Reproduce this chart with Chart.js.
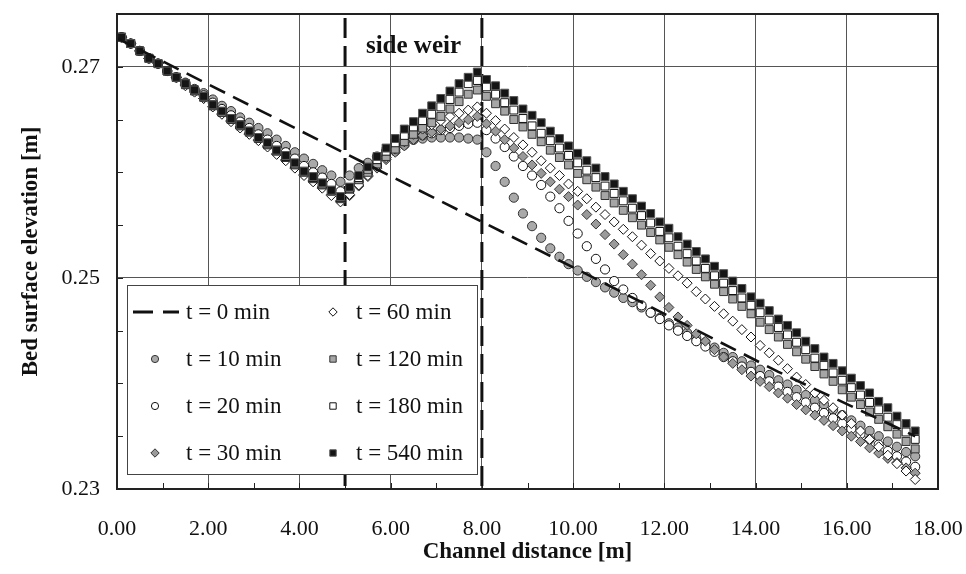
<!DOCTYPE html>
<html>
<head>
<meta charset="utf-8">
<script src="https://cdn.jsdelivr.net/npm/chart.js@4/dist/chart.umd.min.js"></script>
<style>
  html, body { margin: 0; padding: 0; background: #fff; }
</style>
</head>
<body>
<canvas id="perfil" width="966" height="574"></canvas>
<script>
// ================== DATOS ==================
// posiciones de medida a lo largo del canal [m]
const distance = [
  0.1, 0.3, 0.5, 0.7, 0.9, 1.1, 1.3, 1.5, 1.7, 1.9,
  2.1, 2.3, 2.5, 2.7, 2.9, 3.1, 3.3, 3.5, 3.7, 3.9,
  4.1, 4.3, 4.5, 4.7, 4.9, 5.1, 5.3, 5.5, 5.7, 5.9,
  6.1, 6.3, 6.5, 6.7, 6.9, 7.1, 7.3, 7.5, 7.7, 7.9,
  8.1, 8.3, 8.5, 8.7, 8.9, 9.1, 9.3, 9.5, 9.7, 9.9,
  10.1, 10.3, 10.5, 10.7, 10.9, 11.1, 11.3, 11.5, 11.7, 11.9,
  12.1, 12.3, 12.5, 12.7, 12.9, 13.1, 13.3, 13.5, 13.7, 13.9,
  14.1, 14.3, 14.5, 14.7, 14.9, 15.1, 15.3, 15.5, 15.7, 15.9,
  16.1, 16.3, 16.5, 16.7, 16.9, 17.1, 17.3, 17.5
];

// lecho inicial (t = 0)
const t0Distance = [0, 5, 10, 14.5, 17.5];
const t0Bed = [0.2727, 0.2618, 0.2510, 0.2411, 0.2350];

const t10 = [
  0.2728, 0.2722, 0.2715, 0.2708, 0.2703, 0.2696, 0.2690, 0.2685, 0.2679, 0.2675,
  0.2669, 0.2663, 0.2658, 0.2652, 0.2647, 0.2642, 0.2637, 0.2631, 0.2625, 0.2619,
  0.2613, 0.2608, 0.2602, 0.2597, 0.2591, 0.2597, 0.2604, 0.2609, 0.2615, 0.2620,
  0.2625, 0.2628, 0.2631, 0.2632, 0.2633, 0.2633, 0.2633, 0.2633, 0.2632, 0.2631,
  0.2619, 0.2606, 0.2591, 0.2576, 0.2561, 0.2549, 0.2538, 0.2528, 0.2520, 0.2513,
  0.2507, 0.2501, 0.2496, 0.2491, 0.2486, 0.2481, 0.2477, 0.2472, 0.2467, 0.2462,
  0.2457, 0.2453, 0.2448, 0.2443, 0.2439, 0.2434, 0.2429, 0.2425, 0.2421, 0.2417,
  0.2413, 0.2408, 0.2403, 0.2399, 0.2394, 0.2389, 0.2384, 0.2380, 0.2375, 0.2370,
  0.2365, 0.2360, 0.2355, 0.2350, 0.2345, 0.2340, 0.2335, 0.2331
];
const t20 = [
  0.2728, 0.2722, 0.2715, 0.2708, 0.2703, 0.2696, 0.2690, 0.2684, 0.2678, 0.2673,
  0.2666, 0.2660, 0.2654, 0.2648, 0.2642, 0.2636, 0.2631, 0.2625, 0.2619, 0.2613,
  0.2606, 0.2600, 0.2595, 0.2589, 0.2582, 0.2583, 0.2591, 0.2599, 0.2607, 0.2614,
  0.2620, 0.2626, 0.2631, 0.2635, 0.2637, 0.2640, 0.2642, 0.2644, 0.2646, 0.2647,
  0.2640, 0.2632, 0.2624, 0.2615, 0.2606, 0.2597, 0.2588, 0.2577, 0.2566, 0.2554,
  0.2542, 0.2530, 0.2518, 0.2508, 0.2497, 0.2489, 0.2481, 0.2474, 0.2467, 0.2461,
  0.2455, 0.2450, 0.2445, 0.2440, 0.2435, 0.2430, 0.2425, 0.2421, 0.2416, 0.2411,
  0.2407, 0.2402, 0.2397, 0.2392, 0.2387, 0.2382, 0.2377, 0.2372, 0.2367, 0.2362,
  0.2357, 0.2352, 0.2347, 0.2342, 0.2336, 0.2331, 0.2326, 0.2321
];
const t30 = [
  0.2728, 0.2722, 0.2715, 0.2708, 0.2703, 0.2696, 0.2690, 0.2683, 0.2677, 0.2670,
  0.2662, 0.2656, 0.2649, 0.2643, 0.2637, 0.2631, 0.2625, 0.2618, 0.2612, 0.2605,
  0.2598, 0.2592, 0.2586, 0.2579, 0.2573, 0.2578, 0.2587, 0.2596, 0.2604, 0.2612,
  0.2619, 0.2625, 0.2631, 0.2635, 0.2638, 0.2641, 0.2644, 0.2647, 0.2650, 0.2653,
  0.2646, 0.2639, 0.2631, 0.2623, 0.2615, 0.2607, 0.2599, 0.2591, 0.2584, 0.2577,
  0.2569, 0.2560, 0.2551, 0.2541, 0.2532, 0.2522, 0.2513, 0.2503, 0.2493, 0.2482,
  0.2472, 0.2463, 0.2455, 0.2447, 0.2440, 0.2432, 0.2425, 0.2419, 0.2413, 0.2407,
  0.2402, 0.2397, 0.2391, 0.2386, 0.2380, 0.2375, 0.2370, 0.2365, 0.2360, 0.2355,
  0.2350, 0.2345, 0.2339, 0.2334, 0.2329, 0.2325, 0.2320, 0.2315
];
const t60 = [
  0.2728, 0.2722, 0.2715, 0.2708, 0.2703, 0.2696, 0.2690, 0.2682, 0.2676, 0.2670,
  0.2662, 0.2655, 0.2648, 0.2642, 0.2636, 0.2630, 0.2624, 0.2617, 0.2611, 0.2604,
  0.2597, 0.2591, 0.2585, 0.2578, 0.2572, 0.2579, 0.2588, 0.2597, 0.2606, 0.2614,
  0.2622, 0.2629, 0.2636, 0.2641, 0.2645, 0.2649, 0.2653, 0.2656, 0.2659, 0.2662,
  0.2656, 0.2649, 0.2641, 0.2633, 0.2626, 0.2619, 0.2611, 0.2604, 0.2597, 0.2589,
  0.2582, 0.2575, 0.2567, 0.2560, 0.2553, 0.2546, 0.2539, 0.2531, 0.2523, 0.2516,
  0.2509, 0.2502, 0.2495, 0.2487, 0.2480, 0.2473, 0.2466, 0.2459, 0.2451, 0.2444,
  0.2436, 0.2429, 0.2422, 0.2414, 0.2406, 0.2399, 0.2391, 0.2384, 0.2377, 0.2370,
  0.2362, 0.2355, 0.2347, 0.2340, 0.2332, 0.2324, 0.2317, 0.2309
];
const t120 = [
  0.2728, 0.2722, 0.2715, 0.2708, 0.2703, 0.2696, 0.2690, 0.2683, 0.2677, 0.2671,
  0.2663, 0.2657, 0.2650, 0.2644, 0.2638, 0.2632, 0.2626, 0.2620, 0.2614, 0.2607,
  0.2600, 0.2594, 0.2588, 0.2582, 0.2575, 0.2584, 0.2593, 0.2600, 0.2608, 0.2615,
  0.2622, 0.2629, 0.2636, 0.2642, 0.2647, 0.2653, 0.2660, 0.2667, 0.2674, 0.2678,
  0.2672, 0.2665, 0.2658, 0.2650, 0.2643, 0.2636, 0.2629, 0.2621, 0.2614, 0.2607,
  0.2599, 0.2593, 0.2586, 0.2578, 0.2571, 0.2564, 0.2557, 0.2550, 0.2543, 0.2536,
  0.2529, 0.2522, 0.2515, 0.2508, 0.2501, 0.2494, 0.2487, 0.2480, 0.2473, 0.2466,
  0.2458, 0.2451, 0.2444, 0.2437, 0.2430, 0.2423, 0.2416, 0.2409, 0.2402, 0.2394,
  0.2387, 0.2380, 0.2373, 0.2366, 0.2359, 0.2352, 0.2345, 0.2338
];
const t180 = [
  0.2728, 0.2722, 0.2715, 0.2708, 0.2703, 0.2696, 0.2690, 0.2684, 0.2678, 0.2672,
  0.2664, 0.2657, 0.2651, 0.2645, 0.2639, 0.2633, 0.2627, 0.2621, 0.2615, 0.2608,
  0.2601, 0.2595, 0.2589, 0.2583, 0.2576, 0.2585, 0.2595, 0.2603, 0.2612, 0.2620,
  0.2628, 0.2635, 0.2643, 0.2649, 0.2655, 0.2662, 0.2669, 0.2676, 0.2684, 0.2687,
  0.2681, 0.2674, 0.2666, 0.2659, 0.2651, 0.2644, 0.2637, 0.2630, 0.2623, 0.2616,
  0.2609, 0.2602, 0.2595, 0.2587, 0.2580, 0.2573, 0.2566, 0.2559, 0.2552, 0.2544,
  0.2538, 0.2530, 0.2523, 0.2516, 0.2509, 0.2502, 0.2495, 0.2488, 0.2481, 0.2474,
  0.2467, 0.2460, 0.2453, 0.2446, 0.2439, 0.2432, 0.2424, 0.2417, 0.2410, 0.2403,
  0.2396, 0.2389, 0.2382, 0.2375, 0.2368, 0.2361, 0.2354, 0.2347
];
const t540 = [
  0.2728, 0.2722, 0.2715, 0.2708, 0.2703, 0.2696, 0.2690, 0.2684, 0.2678, 0.2672,
  0.2664, 0.2658, 0.2651, 0.2645, 0.2639, 0.2633, 0.2628, 0.2621, 0.2616, 0.2609,
  0.2601, 0.2596, 0.2590, 0.2583, 0.2577, 0.2586, 0.2597, 0.2605, 0.2615, 0.2623,
  0.2632, 0.2641, 0.2648, 0.2656, 0.2663, 0.2670, 0.2677, 0.2684, 0.2690, 0.2695,
  0.2688, 0.2682, 0.2675, 0.2668, 0.2660, 0.2654, 0.2647, 0.2639, 0.2632, 0.2625,
  0.2618, 0.2611, 0.2604, 0.2596, 0.2589, 0.2582, 0.2575, 0.2568, 0.2561, 0.2553,
  0.2547, 0.2539, 0.2532, 0.2525, 0.2518, 0.2511, 0.2504, 0.2497, 0.2490, 0.2482,
  0.2476, 0.2469, 0.2461, 0.2455, 0.2448, 0.2440, 0.2433, 0.2425, 0.2419, 0.2412,
  0.2405, 0.2398, 0.2391, 0.2383, 0.2377, 0.2369, 0.2362, 0.2355
];

const seriesLabels = ['t = 0 min', 't = 10 min', 't = 20 min', 't = 30 min',
                      't = 60 min', 't = 120 min', 't = 180 min', 't = 540 min'];
const weirEdges = [5, 8];          // inicio y fin del vertedero lateral [m]
const weirText = 'side weir';
const xTicks = [0, 2, 4, 6, 8, 10, 12, 14, 16, 18];
const yTicks = [0.23, 0.25, 0.27];

// ================== GRÁFICO ==================
const SERIF = "'Liberation Serif', 'Times New Roman', serif";
Chart.defaults.font.family = SERIF;
Chart.defaults.color = '#111';

const puntos = arr => arr.map((v, i) => ({ x: distance[i], y: v }));

function marcador(label, data, style, fill, border, radius, order) {
    return {
        label, data: puntos(data), order,
        showLine: false,
        pointStyle: style, pointRadius: radius,
        pointBackgroundColor: fill, pointBorderColor: border, pointBorderWidth: 1
    };
}

const datasets = [
    {
        label: seriesLabels[0],
        data: t0Distance.map((x, i) => ({ x, y: t0Bed[i] })),
        showLine: true, pointRadius: 0,
        borderColor: '#111', borderWidth: 2.6, borderDash: [17, 9],
        order: 0
    },
    marcador(seriesLabels[1], t10, 'circle', '#a9a9a9', '#333', 4.6, 7),
    marcador(seriesLabels[2], t20, 'circle', '#ffffff', '#111', 4.6, 6),
    marcador(seriesLabels[3], t30, 'rectRot', '#9a9a9a', '#333', 5, 5),
    marcador(seriesLabels[4], t60, 'rectRot', '#ffffff', '#111', 5, 4),
    marcador(seriesLabels[5], t120, 'rect', '#a6a6a6', '#333', 5.6, 3),
    marcador(seriesLabels[6], t180, 'rect', '#ffffff', '#111', 5.6, 2),
    marcador(seriesLabels[7], t540, 'rect', '#151515', '#555', 5.6, 1)
];

// dibuja un marcador pequeño para la leyenda
function dibujarMarca(ctx, ds, x, y) {
    ctx.save();
    ctx.fillStyle = ds.pointBackgroundColor;
    ctx.strokeStyle = ds.pointBorderColor;
    ctx.lineWidth = 1;
    ctx.beginPath();
    if (ds.pointStyle === 'circle') {
        ctx.arc(x, y, 3.6, 0, Math.PI * 2);
    } else if (ds.pointStyle === 'rect') {
        ctx.rect(x - 3.2, y - 3.2, 6.4, 6.4);
    } else {
        const r = 4.2;
        ctx.moveTo(x, y - r); ctx.lineTo(x + r, y); ctx.lineTo(x, y + r); ctx.lineTo(x - r, y);
        ctx.closePath();
    }
    ctx.fill();
    ctx.stroke();
    ctx.restore();
}

// sin relleno extra por las etiquetas: el área queda fija
const sinPadding = s => { s.paddingTop = 0; s.paddingBottom = 0; s.paddingLeft = 0; s.paddingRight = 0; };

const decorPlugin = {
    id: 'decor',
    beforeDatasetsDraw(chart) {
        const { ctx, chartArea: ca, scales: { x, y } } = chart;
        ctx.save();
        // marcas menores hacia dentro
        ctx.strokeStyle = '#222';
        ctx.lineWidth = 1;
        ctx.beginPath();
        for (let v = 0.235; v < 0.275; v += 0.005) {
            const py = Math.round(y.getPixelForValue(v)) + 0.5;
            ctx.moveTo(ca.left, py); ctx.lineTo(ca.left + 6, py);
        }
        for (let v = 1; v < 18; v += 1) {
            const px = Math.round(x.getPixelForValue(v)) + 0.5;
            ctx.moveTo(px, ca.bottom); ctx.lineTo(px, ca.bottom - 6);
        }
        ctx.stroke();

        // límites del vertedero
        ctx.strokeStyle = '#111';
        ctx.lineWidth = 3;
        ctx.setLineDash([20, 8]);
        weirEdges.forEach(v => {
            const px = x.getPixelForValue(v);
            ctx.beginPath();
            ctx.moveTo(px, ca.top + 4);
            ctx.lineTo(px, ca.bottom);
            ctx.stroke();
        });
        ctx.setLineDash([]);

        ctx.font = 'bold 25px ' + SERIF;
        ctx.fillStyle = '#111';
        ctx.textAlign = 'center';
        ctx.textBaseline = 'middle';
        const mid = (x.getPixelForValue(weirEdges[0]) + x.getPixelForValue(weirEdges[1])) / 2;
        ctx.fillText(weirText, mid, ca.top + 33);
        ctx.restore();
    },
    afterDraw(chart) {
        const { ctx, chartArea: ca } = chart;
        ctx.save();
        // leyenda (2 columnas) dentro del área
        const bx = ca.left + 10, by = ca.top + 271, bw = 350, bh = 189;
        ctx.fillStyle = '#fff';
        ctx.fillRect(bx, by, bw, bh);
        ctx.strokeStyle = '#444';
        ctx.lineWidth = 1;
        ctx.strokeRect(bx + 0.5, by + 0.5, bw, bh);

        ctx.font = '23px ' + SERIF;
        ctx.fillStyle = '#111';
        ctx.textAlign = 'left';
        ctx.textBaseline = 'middle';
        const ds = chart.data.datasets;
        ds.forEach((d, i) => {
            const col = Math.floor(i / 4), row = i % 4;
            const cy = by + 27 + row * 47;
            const mx = bx + (col === 0 ? 28 : 206);
            const tx = bx + (col === 0 ? 59 : 229);
            if (d.showLine) {
                ctx.save();
                ctx.strokeStyle = '#111';
                ctx.lineWidth = 3;
                ctx.setLineDash([20, 10]);
                ctx.beginPath();
                ctx.moveTo(bx + 6, cy); ctx.lineTo(bx + 52, cy);
                ctx.stroke();
                ctx.restore();
            } else {
                dibujarMarca(ctx, d, mx, cy);
            }
            ctx.fillText(d.label, tx, cy + 1);
        });

        // marco del gráfico
        ctx.strokeStyle = '#222';
        ctx.lineWidth = 2;
        ctx.strokeRect(ca.left, ca.top, ca.right - ca.left, ca.bottom - ca.top);
        ctx.restore();
    }
};

new Chart(document.getElementById('perfil'), {
    type: 'scatter',
    data: { datasets },
    options: {
        responsive: false,
        animation: false,
        events: [],
        layout: { padding: { left: 0, top: 14, right: 28, bottom: 0 } },
        plugins: { legend: { display: false }, tooltip: { enabled: false } },
        scales: {
            x: {
                type: 'linear', min: 0, max: 18,
                afterFit: s => { s.height = 85; sinPadding(s); },
                afterBuildTicks: s => { s.ticks = xTicks.map(v => ({ value: v })); },
                ticks: {
                    autoSkip: false, maxRotation: 0, padding: 27,
                    font: { size: 22 },
                    callback: v => Number(v).toFixed(2)
                },
                grid: { color: '#555', lineWidth: 1, drawTicks: false },
                border: { display: false },
                title: {
                    display: true, text: 'Channel distance [m]',
                    font: { size: 23, weight: 'bold' },
                    padding: { top: 0, bottom: 8 }
                }
            },
            y: {
                type: 'linear', min: 0.23, max: 0.275,
                afterFit: s => { s.width = 117; sinPadding(s); },
                afterBuildTicks: s => { s.ticks = yTicks.map(v => ({ value: v })); },
                ticks: {
                    padding: 17,
                    font: { size: 22 },
                    callback: v => Number(v).toFixed(2)
                },
                grid: { color: '#555', lineWidth: 1, drawTicks: false },
                border: { display: false },
                title: {
                    display: true, text: 'Bed surface elevation [m]',
                    font: { size: 23, weight: 'bold' },
                    padding: { top: 17, bottom: 0 }
                }
            }
        }
    },
    plugins: [decorPlugin]
});
</script>
</body>
</html>
